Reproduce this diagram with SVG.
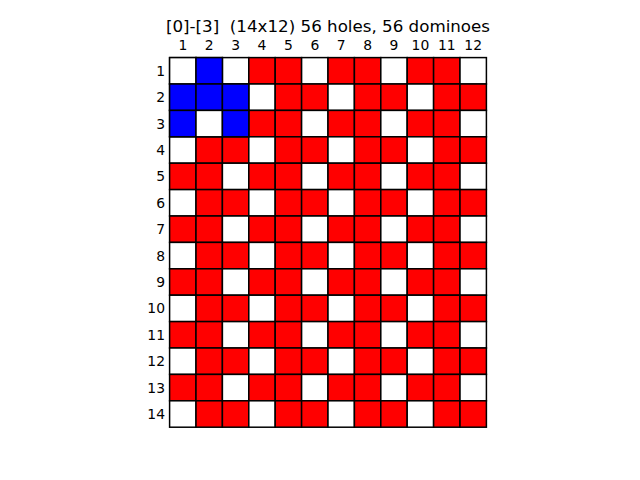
<svg xmlns="http://www.w3.org/2000/svg" width="640" height="480" viewBox="0 0 640 480">
<style>
.t{font-family:"DejaVu Sans",sans-serif;fill:#000}
.ti{font-size:16.7px;text-anchor:middle;white-space:pre}
.cl{font-size:13.9px;text-anchor:middle}
.rl{font-size:13.9px;text-anchor:end}
rect.c{stroke:#000;stroke-width:1.5}
.w{fill:#fff}.r{fill:#f00}.b{fill:#00f}
</style>
<rect width="640" height="480" fill="#fff"/>
<text class="t ti" x="328" y="32" xml:space="preserve">[0]-[3]  (14x12) 56 holes, 56 dominoes</text>
<g id="collabels">
<text class="t cl" x="182.8" y="50">1</text><text class="t cl" x="209.2" y="50">2</text><text class="t cl" x="235.6" y="50">3</text><text class="t cl" x="262" y="50">4</text><text class="t cl" x="288.4" y="50">5</text><text class="t cl" x="314.8" y="50">6</text><text class="t cl" x="341.2" y="50">7</text><text class="t cl" x="367.6" y="50">8</text><text class="t cl" x="394" y="50">9</text><text class="t cl" x="420.4" y="50">10</text><text class="t cl" x="446.8" y="50">11</text><text class="t cl" x="473.2" y="50">12</text>
</g>
<g id="rowlabels">
<text class="t rl" x="165" y="75.8">1</text><text class="t rl" x="165" y="102.2">2</text><text class="t rl" x="165" y="128.6">3</text><text class="t rl" x="165" y="155">4</text><text class="t rl" x="165" y="181.4">5</text><text class="t rl" x="165" y="207.8">6</text><text class="t rl" x="165" y="234.2">7</text><text class="t rl" x="165" y="260.6">8</text><text class="t rl" x="165" y="287">9</text><text class="t rl" x="165" y="313.4">10</text><text class="t rl" x="165" y="339.8">11</text><text class="t rl" x="165" y="366.2">12</text><text class="t rl" x="165" y="392.6">13</text><text class="t rl" x="165" y="419">14</text>
</g>
<defs>
<g id="odd"><rect class="c r" x="0" y="0" width="26.4" height="26.4"/><rect class="c r" x="26.4" y="0" width="26.4" height="26.4"/><rect class="c w" x="52.8" y="0" width="26.4" height="26.4"/><rect class="c r" x="79.2" y="0" width="26.4" height="26.4"/><rect class="c r" x="105.6" y="0" width="26.4" height="26.4"/><rect class="c w" x="132" y="0" width="26.4" height="26.4"/><rect class="c r" x="158.4" y="0" width="26.4" height="26.4"/><rect class="c r" x="184.8" y="0" width="26.4" height="26.4"/><rect class="c w" x="211.2" y="0" width="26.4" height="26.4"/><rect class="c r" x="237.6" y="0" width="26.4" height="26.4"/><rect class="c r" x="264" y="0" width="26.4" height="26.4"/><rect class="c w" x="290.4" y="0" width="26.4" height="26.4"/></g>
<g id="even"><rect class="c w" x="0" y="0" width="26.4" height="26.4"/><rect class="c r" x="26.4" y="0" width="26.4" height="26.4"/><rect class="c r" x="52.8" y="0" width="26.4" height="26.4"/><rect class="c w" x="79.2" y="0" width="26.4" height="26.4"/><rect class="c r" x="105.6" y="0" width="26.4" height="26.4"/><rect class="c r" x="132" y="0" width="26.4" height="26.4"/><rect class="c w" x="158.4" y="0" width="26.4" height="26.4"/><rect class="c r" x="184.8" y="0" width="26.4" height="26.4"/><rect class="c r" x="211.2" y="0" width="26.4" height="26.4"/><rect class="c w" x="237.6" y="0" width="26.4" height="26.4"/><rect class="c r" x="264" y="0" width="26.4" height="26.4"/><rect class="c r" x="290.4" y="0" width="26.4" height="26.4"/></g>
</defs>
<g id="grid" transform="translate(169.6,57.6)">
<use href="#odd" y="0"/><use href="#even" y="26.4"/><use href="#odd" y="52.8"/><use href="#even" y="79.2"/><use href="#odd" y="105.6"/><use href="#even" y="132"/><use href="#odd" y="158.4"/><use href="#even" y="184.8"/><use href="#odd" y="211.2"/><use href="#even" y="237.6"/><use href="#odd" y="264"/><use href="#even" y="290.4"/><use href="#odd" y="316.8"/><use href="#even" y="343.2"/>
<g id="pentomino">
<rect class="c w" x="0" y="0" width="26.4" height="26.4"/><rect class="c b" x="26.4" y="0" width="26.4" height="26.4"/>
<rect class="c b" x="0" y="26.4" width="26.4" height="26.4"/><rect class="c b" x="26.4" y="26.4" width="26.4" height="26.4"/><rect class="c b" x="52.8" y="26.4" width="26.4" height="26.4"/>
<rect class="c b" x="0" y="52.8" width="26.4" height="26.4"/><rect class="c w" x="26.4" y="52.8" width="26.4" height="26.4"/><rect class="c b" x="52.8" y="52.8" width="26.4" height="26.4"/>
</g>
</g>
</svg>
